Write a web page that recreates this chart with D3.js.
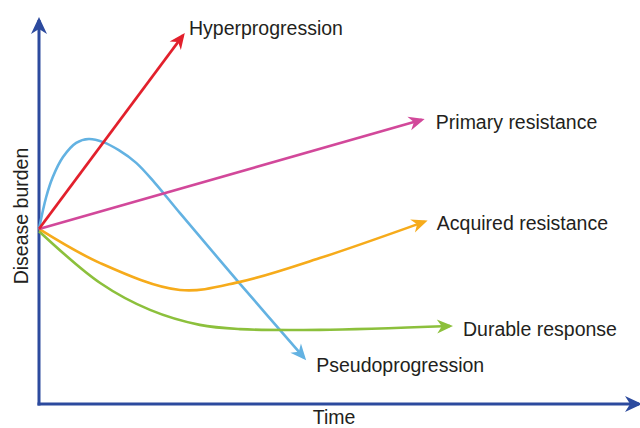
<!DOCTYPE html>
<html>
<head>
<meta charset="utf-8">
<script src="https://cdn.jsdelivr.net/npm/d3@7"></script>
<style>
  html, body { margin: 0; padding: 0; background: #fff; }
  svg { display: block; font-family: "Liberation Sans", Arial, sans-serif; }
</style>
</head>
<body>
<svg id="chart"></svg>
<script>
// series names, in the order they are drawn
const seriesNames = ['Pseudoprogression', 'Durable response', 'Acquired resistance', 'Primary resistance', 'Hyperprogression'];

// time (x) and disease burden (y) for each response pattern
const pseudoTime   = [0, 0.12, 0.23, 0.40, 0.62, 0.83, 1.07, 1.33, 1.62, 1.93, 2.35, 3.35, 4.42];
const pseudoBurden = [4.56, 5.39, 5.91, 6.43, 6.80, 6.90, 6.82, 6.61, 6.28, 5.76, 4.97, 3.13, 1.20];
const durableTime   = [0, 1.02, 1.85, 2.68, 3.35, 4.68, 6.85];
const durableBurden = [4.50, 3.15, 2.45, 2.06, 1.95, 1.93, 2.03];
const acquiredTime   = [0, 1.02, 2.35, 3.35, 4.68, 6.43];
const acquiredBurden = [4.56, 3.67, 2.97, 3.18, 3.80, 4.75];
const primaryTime   = [0, 6.38];
const primaryBurden = [4.56, 7.40];
const hyperTime   = [0, 2.40];
const hyperBurden = [4.56, 9.60];

const seriesColors = ['#63b2e2', '#8cc03c', '#f6ab1b', '#d2489a', '#e2202c'];

const width = 640;
const height = 428;

const x = d3.scaleLinear().domain([0, 10]).range([39, 639]);
const y = d3.scaleLinear().domain([0, 10]).range([404, 20]);

const series = [
  [pseudoTime, pseudoBurden],
  [durableTime, durableBurden],
  [acquiredTime, acquiredBurden],
  [primaryTime, primaryBurden],
  [hyperTime, hyperBurden]
].map(([t, b], i) => ({
  name: seriesNames[i],
  color: seriesColors[i],
  points: t.map((v, j) => ({t: v, b: b[j]}))
}));

// label offsets from the arrow tip (px)
const labelOffset = {
  'Hyperprogression': [6, 0],
  'Primary resistance': [14, 9],
  'Acquired resistance': [12, 8],
  'Durable response': [13, 10],
  'Pseudoprogression': [12, 14]
};

const line = d3.line()
  .x(d => x(d.t))
  .y(d => y(d.b))
  .curve(d3.curveCatmullRom.alpha(0.5));

function arrowMarker (defs, id, color, len, half) {
  defs.append('marker')
    .attr('id', id)
    .attr('markerUnits', 'userSpaceOnUse')
    .attr('viewBox', `-1 ${-half - 1} ${len + 2} ${2 * half + 2}`)
    .attr('markerWidth', len + 2)
    .attr('markerHeight', 2 * half + 2)
    .attr('refX', len - 3)
    .attr('refY', 0)
    .attr('orient', 'auto')
    .append('path')
    .attr('d', `M0,${-half} L${len},0 L0,${half} L${len * 0.3},0 Z`)
    .attr('fill', color);
}

function app () {
  const svg = d3.select('svg#chart')
    .attr('width', width)
    .attr('height', height);

  const defs = svg.append('defs');
  series.forEach((s, i) => arrowMarker(defs, 'arrow' + i, s.color, 16, 7));
  arrowMarker(defs, 'arrowAxis', '#2c4a9e', 17, 8);

  // axes
  svg.append('line')
    .attr('x1', x(0)).attr('y1', y(0) + 1.5)
    .attr('x2', x(0)).attr('y2', y(10))
    .attr('stroke', '#2c4a9e').attr('stroke-width', 3)
    .attr('marker-end', 'url(#arrowAxis)');
  svg.append('line')
    .attr('x1', x(0) - 1.5).attr('y1', y(0))
    .attr('x2', x(10)).attr('y2', y(0))
    .attr('stroke', '#2c4a9e').attr('stroke-width', 3)
    .attr('marker-end', 'url(#arrowAxis)');

  svg.selectAll('path.series')
    .data(series)
    .join('path')
    .attr('class', 'series')
    .attr('d', d => line(d.points))
    .attr('fill', 'none')
    .attr('stroke', d => d.color)
    .attr('stroke-width', 2.6)
    .attr('marker-end', (d, i) => `url(#arrow${i})`);

  svg.selectAll('text.label')
    .data(series)
    .join('text')
    .attr('class', 'label')
    .attr('x', d => x(d.points[d.points.length - 1].t) + labelOffset[d.name][0])
    .attr('y', d => y(d.points[d.points.length - 1].b) + labelOffset[d.name][1])
    .attr('font-size', 19.5)
    .attr('fill', '#231f20')
    .text(d => d.name);

  svg.append('text')
    .attr('x', 334).attr('y', 424)
    .attr('text-anchor', 'middle')
    .attr('font-size', 19.5)
    .attr('fill', '#231f20')
    .text('Time');

  svg.append('text')
    .attr('transform', 'translate(28,216) rotate(-90)')
    .attr('text-anchor', 'middle')
    .attr('font-size', 19.5)
    .attr('fill', '#231f20')
    .text('Disease burden');
}

app();
</script>
</body>
</html>
